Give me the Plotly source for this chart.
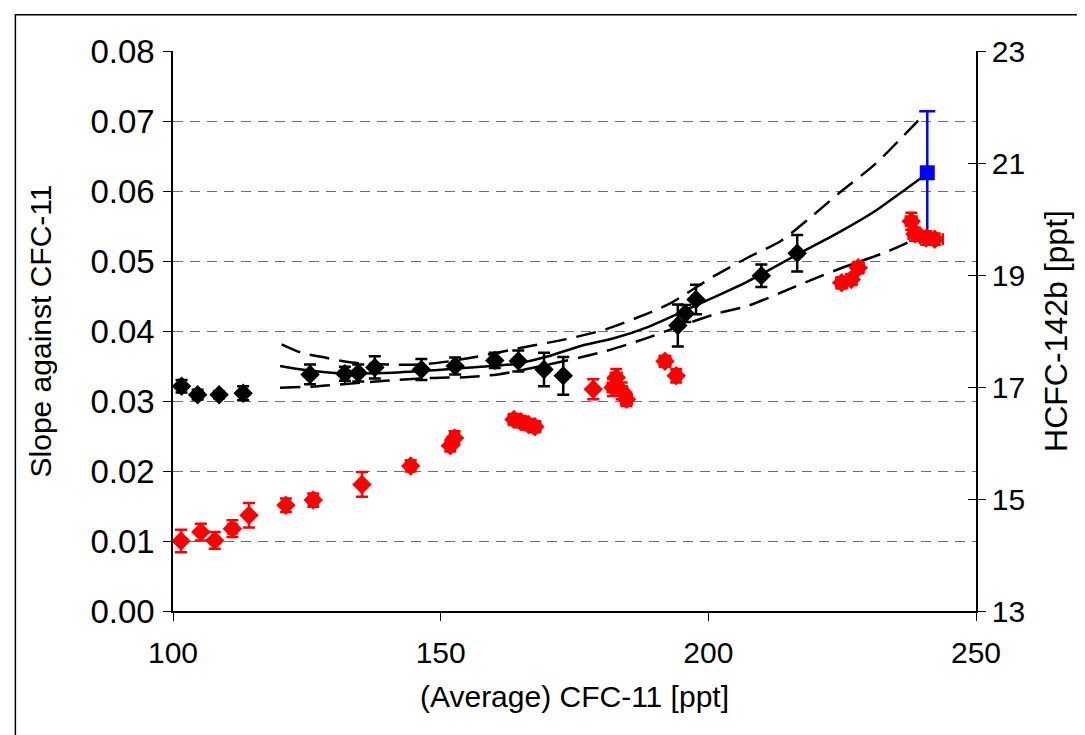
import plotly.graph_objects as go

# Black diamonds: slope against CFC-11 (left axis)
black_x = [101.6, 104.6, 108.6, 113.1, 125.6, 132.1, 134.6, 137.7, 146.4, 152.7,
           160.1, 164.5, 169.3, 172.9, 194.3, 195.7, 197.7, 209.9, 216.6]
black_y = [0.0321, 0.0309, 0.0309, 0.0311, 0.0338, 0.0339, 0.0340, 0.0348, 0.0345, 0.0350,
           0.0358, 0.0357, 0.0345, 0.0336, 0.0408, 0.0425, 0.0445, 0.0479, 0.0511]
black_err = [0.0009, 0.0007, 0.0005, 0.0010, 0.0014, 0.0010, 0.0012, 0.0016, 0.0015, 0.0012,
             0.0011, 0.0015, 0.0024, 0.0027, 0.0030, 0.0012, 0.0021, 0.0016, 0.0026]

# Red diamonds: HCFC-142b [ppt] (right axis)
red_x = [101.5, 105.2, 107.8, 111.1, 114.2, 121.1, 126.2, 135.3, 144.4, 151.8, 152.6,
         163.7, 165.0, 166.4, 167.6, 178.5, 182.2, 182.8, 183.8, 184.7, 191.9, 194.0,
         224.9, 226.7, 228.0, 237.9, 238.6, 240.7, 242.3]
red_y = [14.25, 14.41, 14.26, 14.47, 14.71, 14.89, 14.98, 15.26, 15.59, 15.95, 16.09,
         16.42, 16.38, 16.33, 16.29, 16.96, 16.99, 17.17, 16.93, 16.78, 17.46, 17.20,
         18.86, 18.92, 19.13, 19.96, 19.73, 19.66, 19.64]
red_yerr = [0.20, 0.15, 0.15, 0.15, 0.22, 0.12, 0.12, 0.22, 0.10, 0.10, 0.12,
            0.10, 0.10, 0.10, 0.10, 0.18, 0.15, 0.15, 0.15, 0.12, 0.10, 0.12,
            0.10, 0.10, 0.10, 0.15, 0.12, 0.12, 0.10]
red_xerr = [0, 0, 0, 0.8, 0, 0, 0.8, 0, 0.8, 0.8, 0.8,
            1.0, 1.0, 1.0, 1.0, 0, 1.0, 1.0, 1.0, 1.0, 1.0, 0.8,
            1.0, 1.0, 1.0, 1.0, 1.2, 1.2, 1.5]

# Blue square (left axis)
blue_x = [240.9]
blue_y = [0.0626]
blue_err = [0.0088]

# Fit curve and confidence band (left axis)
fit_x = [120.0, 124.0, 130.3, 139.6, 148.9, 157.6, 163.9, 170.1, 176.3, 182.5, 188.8,
         198.1, 207.4, 216.8, 224.9, 231.1, 237.3, 240.9]
fit_y = [0.0350, 0.0345, 0.0340, 0.0340, 0.0344, 0.0349, 0.0353, 0.0364, 0.0379, 0.0390, 0.0406,
         0.0438, 0.0471, 0.0510, 0.0543, 0.0571, 0.0605, 0.0625]
up_x = [120.3, 124.0, 128.4, 133.4, 141.5, 147.7, 155.1, 167.0, 173.2, 180.7, 187.0,
        192.5, 201.2, 207.4, 213.6, 219.5, 224.9, 231.1, 236.1, 240.0]
up_y = [0.0381, 0.0369, 0.0362, 0.0355, 0.0352, 0.0353, 0.0361, 0.0379, 0.0388, 0.0402, 0.0420,
        0.0438, 0.0479, 0.0505, 0.0529, 0.0565, 0.0600, 0.0638, 0.0676, 0.0707]
lo_x = [120.0, 127.1, 130.3, 139.6, 148.9, 154.5, 160.7, 170.1, 180.7, 187.0, 201.2,
        207.4, 213.6, 218.6, 224.9, 233.6, 241.0]
lo_y = [0.0319, 0.0321, 0.0323, 0.0329, 0.0333, 0.0334, 0.0338, 0.0352, 0.0371, 0.0386, 0.0424,
        0.0436, 0.0455, 0.0471, 0.0490, 0.0514, 0.0540]

x_ticks = [100, 150, 200, 250]
left_ticks = [0.00, 0.01, 0.02, 0.03, 0.04, 0.05, 0.06, 0.07, 0.08]
right_ticks = [13, 15, 17, 19, 21, 23]

FONT = "Liberation Sans, Arial, sans-serif"

fig = go.Figure()

band_line = dict(color="black", width=2.5, dash="20px,10px", shape="spline", smoothing=0.8)
fig.add_trace(go.Scatter(x=up_x, y=up_y, mode="lines", line=band_line,
                         showlegend=False, hoverinfo="skip"))
fig.add_trace(go.Scatter(x=lo_x, y=lo_y, mode="lines", line=band_line,
                         showlegend=False, hoverinfo="skip"))
fig.add_trace(go.Scatter(x=fit_x, y=fit_y, mode="lines",
                         line=dict(color="black", width=2.5, shape="spline", smoothing=0.8),
                         showlegend=False))

fig.add_trace(go.Scatter(x=blue_x, y=blue_y, mode="markers",
                         marker=dict(symbol="square", size=15, color="#0000FF"),
                         error_y=dict(type="data", array=blue_err, color="#0000FF",
                                      thickness=2.5, width=8),
                         showlegend=False))

fig.add_trace(go.Scatter(x=black_x, y=black_y, mode="markers",
                         marker=dict(symbol="diamond", size=15, color="black"),
                         error_y=dict(type="data", array=black_err, color="black",
                                      thickness=2.5, width=6),
                         showlegend=False))

fig.add_trace(go.Scatter(x=red_x, y=red_y, mode="markers", yaxis="y2",
                         marker=dict(symbol="diamond", size=15, color="#FF0000"),
                         error_y=dict(type="data", array=red_yerr, color="#FF0000",
                                      thickness=2.5, width=6),
                         error_x=dict(type="data", array=red_xerr, color="#FF0000",
                                      thickness=2.5, width=6),
                         showlegend=False))

# invisible trace to activate the inner-tick axis on the right
fig.add_trace(go.Scatter(x=[100], y=[13], yaxis="y3", mode="markers",
                         marker=dict(opacity=0), showlegend=False, hoverinfo="skip"))

fig.update_layout(
    width=1085, height=735,
    margin=dict(l=165, r=117, t=43, b=132, autoexpand=False),
    paper_bgcolor="white", plot_bgcolor="white",
    font=dict(family=FONT, color="black", size=28),
    xaxis=dict(range=[100, 250], tickvals=x_ticks, ticktext=[str(v) for v in x_ticks],
               showgrid=False, zeroline=False, showline=True, linecolor="black", linewidth=1.5,
               ticks="outside", ticklen=8, tickcolor="black", tickwidth=1,
               tickfont=dict(size=30, family=FONT), ticklabelstandoff=6,
               title=dict(text="(Average) CFC-11 [ppt]", font=dict(size=30, family=FONT), standoff=18)),
    yaxis=dict(range=[0, 0.08], tickvals=left_ticks, ticktext=["%.2f" % v for v in left_ticks],
               showgrid=True, gridcolor="#6e6e6e", griddash="10px,7px", gridwidth=1.2,
               zeroline=False, showline=True, linecolor="black", linewidth=1.5,
               ticks="outside", ticklen=8, tickcolor="black", tickwidth=1,
               tickfont=dict(size=33, family=FONT), ticklabelstandoff=2,
               title=dict(text="Slope against CFC-11", font=dict(size=30, family=FONT), standoff=30)),
    yaxis2=dict(range=[13, 23], tickvals=right_ticks, ticktext=[str(v) for v in right_ticks],
                overlaying="y", side="right", anchor="x", showgrid=False, zeroline=False,
                showline=True, linecolor="black", linewidth=1.5,
                ticks="outside", ticklen=8, tickcolor="black", tickwidth=1,
                tickfont=dict(size=30, family=FONT),
                title=dict(text="HCFC-142b [ppt]", font=dict(size=32, family=FONT), standoff=20)),
    yaxis3=dict(range=[13, 23], tickvals=right_ticks, overlaying="y", side="right", anchor="x",
                showgrid=False, zeroline=False, showline=False, showticklabels=False,
                ticks="inside", ticklen=8, tickcolor="black", tickwidth=1),
    shapes=[dict(type="rect", xref="paper", yref="paper",
                 x0=-0.1963, x1=1.16, y0=-0.26, y1=1.0648,
                 line=dict(color="black", width=1.5), fillcolor="rgba(0,0,0,0)", layer="above")],
)

fig.write_html("out.html")
